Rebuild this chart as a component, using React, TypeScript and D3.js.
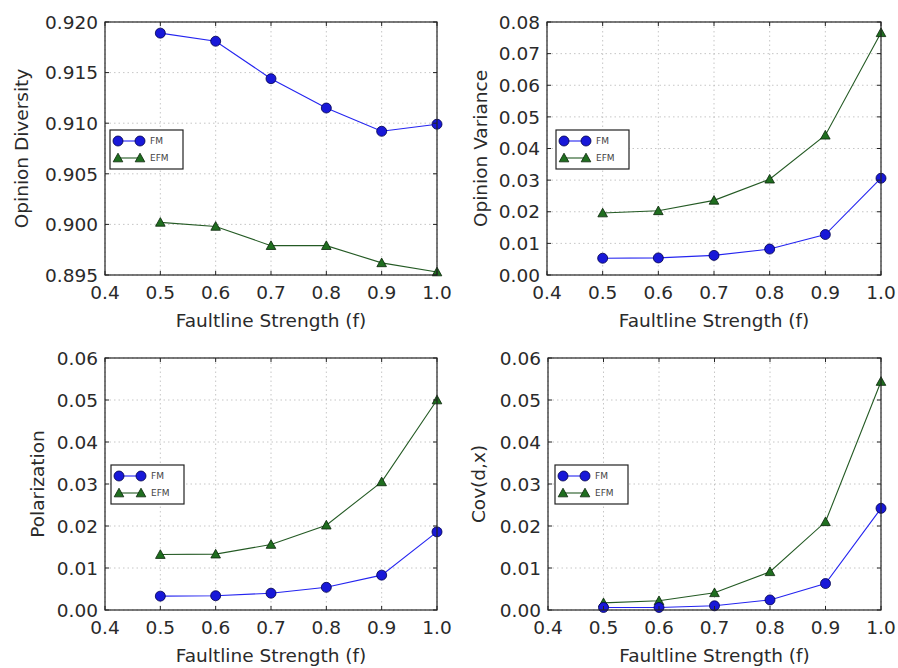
import React from "react";
import * as d3 from "d3";

const xValues = [0.5, 0.6, 0.7, 0.8, 0.9, 1.0];
const xTicks = [0.4, 0.5, 0.6, 0.7, 0.8, 0.9, 1.0];
const seriesNames = ["FM", "EFM"];

const diversityFM = [0.9189, 0.9181, 0.9144, 0.9115, 0.9092, 0.9099];
const diversityEFM = [0.9002, 0.8998, 0.8979, 0.8979, 0.8962, 0.8953];
const diversityTicks = [0.895, 0.9, 0.905, 0.91, 0.915, 0.92];

const varianceFM = [0.0053, 0.0054, 0.0062, 0.0082, 0.0128, 0.0306];
const varianceEFM = [0.0196, 0.0203, 0.0236, 0.0303, 0.0442, 0.0766];
const varianceTicks = [0, 0.01, 0.02, 0.03, 0.04, 0.05, 0.06, 0.07, 0.08];

const polarFM = [0.0033, 0.0034, 0.004, 0.0054, 0.0083, 0.0186];
const polarEFM = [0.0132, 0.0133, 0.0156, 0.0202, 0.0305, 0.05];
const polarTicks = [0, 0.01, 0.02, 0.03, 0.04, 0.05, 0.06];

const covFM = [0.0006, 0.0006, 0.001, 0.0024, 0.0063, 0.0242];
const covEFM = [0.0017, 0.0022, 0.0041, 0.0091, 0.021, 0.0544];
const covTicks = [0, 0.01, 0.02, 0.03, 0.04, 0.05, 0.06];

const FONT = "DejaVu Sans, sans-serif";
const TEXT = "#2a2a2a";
const FS = 18.5;
const BLUE_LINE = "#2424f0";
const BLUE_FILL = "#1818d8";
const BLUE_EDGE = "#00004a";
const GREEN_LINE = "#245a24";
const GREEN_FILL = "#1f6e1f";
const GREEN_EDGE = "#0a260a";

type PanelProps = {
  left: number;
  top: number;
  right: number;
  bottom: number;
  yTicks: number[];
  yFormat: string;
  ylabel: string;
  ylabelX: number;
  fm: number[];
  efm: number[];
  legendX: number;
  legendY: number;
};

function Triangle({ x, y }: { x: number; y: number }) {
  const s = 4.8;
  const p = `M${x},${y - s}L${x + s},${y + s * 0.8}L${x - s},${y + s * 0.8}Z`;
  return <path d={p} fill={GREEN_FILL} stroke={GREEN_EDGE} strokeWidth={0.8} />;
}

function Dot({ x, y }: { x: number; y: number }) {
  return <circle cx={x} cy={y} r={5} fill={BLUE_FILL} stroke={BLUE_EDGE} strokeWidth={0.8} />;
}

function Panel(p: PanelProps) {
  const x = d3.scaleLinear().domain([0.4, 1.0]).range([p.left, p.right]);
  const y = d3
    .scaleLinear()
    .domain([p.yTicks[0], p.yTicks[p.yTicks.length - 1]])
    .range([p.bottom, p.top]);
  const line = d3
    .line<number>()
    .x((_, i) => x(xValues[i]))
    .y((d) => y(d));
  const fmt = d3.format(p.yFormat);
  const xf = d3.format(".1f");
  const tl = 4;
  return (
    <g>
      {xTicks.map((t) => (
        <line key={"gx" + t} x1={x(t)} x2={x(t)} y1={p.top} y2={p.bottom} stroke="#b8b8b8" strokeWidth={0.8} strokeDasharray="1.5,3" />
      ))}
      {p.yTicks.map((t) => (
        <line key={"gy" + t} x1={p.left} x2={p.right} y1={y(t)} y2={y(t)} stroke="#b8b8b8" strokeWidth={0.8} strokeDasharray="1.5,3" />
      ))}
      <path d={line(p.efm) || ""} fill="none" stroke={GREEN_LINE} strokeWidth={1.1} />
      <path d={line(p.fm) || ""} fill="none" stroke={BLUE_LINE} strokeWidth={1.1} />
      {p.efm.map((v, i) => (
        <Triangle key={"t" + i} x={x(xValues[i])} y={y(v)} />
      ))}
      {p.fm.map((v, i) => (
        <Dot key={"c" + i} x={x(xValues[i])} y={y(v)} />
      ))}
      <rect x={p.left} y={p.top} width={p.right - p.left} height={p.bottom - p.top} fill="none" stroke="#222" strokeWidth={1.2} />
      {xTicks.map((t) => (
        <g key={"tx" + t}>
          <line x1={x(t)} x2={x(t)} y1={p.bottom} y2={p.bottom - tl} stroke="#222" />
          <line x1={x(t)} x2={x(t)} y1={p.top} y2={p.top + tl} stroke="#222" />
          <text x={x(t)} y={p.bottom + 24} textAnchor="middle" fontFamily={FONT} fontSize={FS} fill={TEXT}>
            {xf(t)}
          </text>
        </g>
      ))}
      {p.yTicks.map((t) => (
        <g key={"ty" + t}>
          <line x1={p.left} x2={p.left + tl} y1={y(t)} y2={y(t)} stroke="#222" />
          <line x1={p.right} x2={p.right - tl} y1={y(t)} y2={y(t)} stroke="#222" />
          <text x={p.left - 7} y={y(t) + 6.7} textAnchor="end" fontFamily={FONT} fontSize={FS} fill={TEXT}>
            {fmt(t)}
          </text>
        </g>
      ))}
      <text x={(p.left + p.right) / 2} y={p.bottom + 52} textAnchor="middle" fontFamily={FONT} fontSize={FS} fill={TEXT}>
        Faultline Strength (f)
      </text>
      <text
        transform={`translate(${p.ylabelX},${(p.top + p.bottom) / 2}) rotate(-90)`}
        textAnchor="middle"
        fontFamily={FONT}
        fontSize={FS}
        fill={TEXT}
      >
        {p.ylabel}
      </text>
      <g transform={`translate(${p.legendX},${p.legendY})`}>
        <rect x={0} y={0} width={73} height={39} fill="white" stroke="#222" strokeWidth={1.2} />
        <line x1={8} x2={30} y1={11} y2={11} stroke={BLUE_LINE} strokeWidth={1.1} />
        <Dot x={8} y={11} />
        <Dot x={30} y={11} />
        <text x={40} y={14} fontFamily={FONT} fontSize={9} fill="#444">
          {seriesNames[0]}
        </text>
        <line x1={8} x2={30} y1={28} y2={28} stroke={GREEN_LINE} strokeWidth={1.1} />
        <Triangle x={8} y={28} />
        <Triangle x={30} y={28} />
        <text x={40} y={31} fontFamily={FONT} fontSize={9} fill="#444">
          {seriesNames[1]}
        </text>
      </g>
    </g>
  );
}

export default function App() {
  return (
    <svg width={898} height={668} style={{ position: "absolute", left: 0, top: 0, background: "white" }}>
      <rect width={898} height={668} fill="white" />
      <Panel left={105} top={22} right={437} bottom={275} yTicks={diversityTicks} yFormat=".3f" ylabel="Opinion Diversity" ylabelX={28} fm={diversityFM} efm={diversityEFM} legendX={110} legendY={130} />
      <Panel left={547} top={22} right={881} bottom={275} yTicks={varianceTicks} yFormat=".2f" ylabel="Opinion Variance" ylabelX={487} fm={varianceFM} efm={varianceEFM} legendX={556} legendY={130} />
      <Panel left={105} top={358} right={437} bottom={610} yTicks={polarTicks} yFormat=".2f" ylabel="Polarization" ylabelX={44} fm={polarFM} efm={polarEFM} legendX={111} legendY={465} />
      <Panel left={548} top={358} right={881} bottom={610} yTicks={covTicks} yFormat=".2f" ylabel="Cov(d,x)" ylabelX={485} fm={covFM} efm={covEFM} legendX={555} legendY={465} />
    </svg>
  );
}
